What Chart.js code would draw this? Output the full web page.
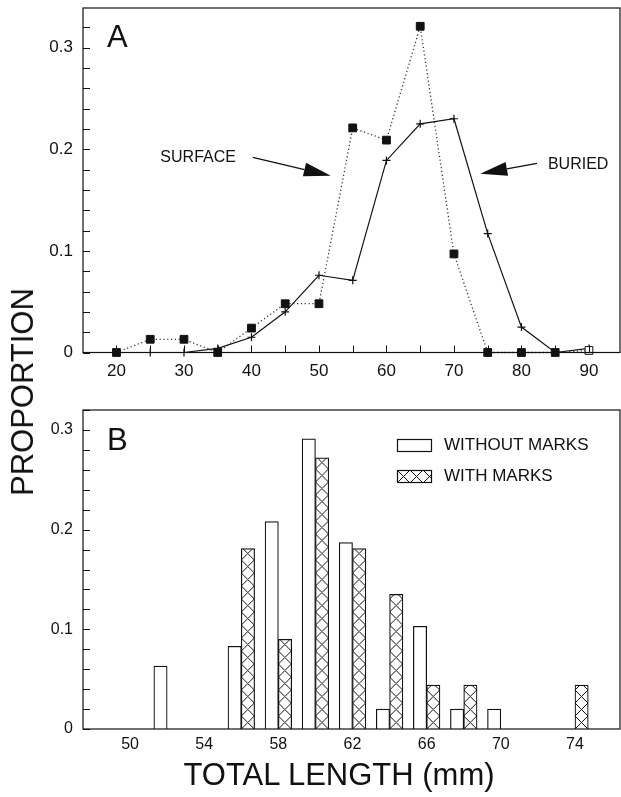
<!DOCTYPE html>
<html>
<head>
<meta charset="utf-8">
<script src="https://cdn.jsdelivr.net/npm/chart.js@4.4.1/dist/chart.umd.min.js"></script>
<style>
  body { margin: 0; background: #fff; }
  #wrap { position: relative; width: 621px; height: 797px; font-family: "Liberation Sans", Arial, sans-serif; color: #111; }
  canvas { position: absolute; left: 0; }
  #chartA { top: 0; }
  #chartB { top: 395px; }
  #ylab { position: absolute; left: 23px; top: 392px; transform: translate(-50%, -50%) rotate(-90deg); font-size: 31px; white-space: nowrap; }
  #xlab { position: absolute; left: 339px; top: 775px; transform: translate(-50%, -50%); font-size: 31px; white-space: nowrap; }
</style>
</head>
<body>
<div id="wrap">
  <canvas id="chartA" width="621" height="395"></canvas>
  <canvas id="chartB" width="621" height="402"></canvas>
  <div id="ylab">PROPORTION</div>
  <div id="xlab">TOTAL LENGTH (mm)</div>
</div>
<script>
// panel A: length frequency, surface vs buried
const lengthA = [20, 25, 30, 35, 40, 45, 50, 55, 60, 65, 70, 75, 80, 85, 90];
const surface = [0, 0.013, 0.013, 0, 0.024, 0.048, 0.048, 0.221, 0.209, 0.321, 0.097, 0, 0, 0, 0.002];
const buried  = [0, 0, 0, 0.004, 0.015, 0.040, 0.076, 0.071, 0.189, 0.225, 0.230, 0.117, 0.025, 0, 0.004];
const xTicksA = [20, 30, 40, 50, 60, 70, 80, 90];

// panel B: with / without marks
const lengthB = [52, 56, 58, 60, 62, 64, 66, 68, 70, 74];
const withoutMarks = [0.063, 0.083, 0.208, 0.291, 0.187, 0.020, 0.103, 0.020, 0.020, null];
const withMarks    = [null, 0.181, 0.090, 0.272, 0.181, 0.135, 0.044, 0.044, null, 0.044];
const xTicksB = [50, 54, 58, 62, 66, 70, 74];

const yTicks = [0, 0.1, 0.2, 0.3];

const FONT = '"Liberation Sans", Arial, sans-serif';
const INK = '#111';

const toXY = (xs, ys) => xs.map((x, i) => ({ x: x, y: ys[i] })).filter(p => p.y !== null);
const pick = (list) => (v) => {
  const hit = list.find(l => Math.abs(l - v) < 1e-6);
  return hit === undefined ? '' : String(hit);
};
const noPad = (s) => { s.paddingTop = 0; s.paddingBottom = 0; s.paddingLeft = 0; s.paddingRight = 0; };

function makeHatch(ctx2d, x0, y0) {
  const c = document.createElement('canvas');
  c.width = 13; c.height = 13;
  const g = c.getContext('2d');
  g.fillStyle = '#fff';
  g.fillRect(0, 0, 13, 13);
  g.strokeStyle = INK;
  g.lineWidth = 1;
  g.beginPath();
  g.moveTo(0, 0); g.lineTo(13, 13);
  g.moveTo(13, 0); g.lineTo(0, 13);
  g.stroke();
  const pat = ctx2d.createPattern(c, 'repeat');
  if (pat.setTransform) pat.setTransform(new DOMMatrix().translate(x0, y0));
  return pat;
}

// frame + inward ticks, panel letter
const framePlugin = {
  id: 'frame',
  afterDatasetsDraw(chart, args, opts) {
    const { ctx, chartArea: a, scales } = chart;
    ctx.save();
    ctx.strokeStyle = INK;
    ctx.lineWidth = 1.2;
    ctx.strokeRect(a.left, a.top, a.right - a.left, a.bottom - a.top);
    ctx.lineWidth = 1;
    ctx.beginPath();
    scales.y.ticks.forEach(t => {
      if (Math.abs(t.value / opts.yStep - Math.round(t.value / opts.yStep)) > 1e-6) return;
      const y = Math.round(scales.y.getPixelForValue(t.value)) + 0.5;
      ctx.moveTo(a.left, y); ctx.lineTo(a.left + 7, y);
    });
    if (opts.xStep) {
      scales.x.ticks.forEach(t => {
        if (t.value < scales.x.min) return;
        if (Math.abs(t.value / opts.xStep - Math.round(t.value / opts.xStep)) > 1e-6) return;
        const x = Math.round(scales.x.getPixelForValue(t.value)) + 0.5;
        ctx.moveTo(x, a.bottom); ctx.lineTo(x, a.bottom - 7);
      });
    }
    ctx.stroke();
    ctx.fillStyle = INK;
    ctx.font = '31px ' + FONT;
    ctx.textBaseline = 'alphabetic';
    ctx.fillText(opts.letter, a.left + 24, a.top + opts.letterDy);
    ctx.restore();
  }
};

// labelled arrows on panel A
const arrowPlugin = {
  id: 'arrows',
  afterDraw(chart, args, opts) {
    if (!opts.items) return;
    const { ctx, scales } = chart;
    const px = (x) => scales.x.getPixelForValue(x);
    const py = (y) => scales.y.getPixelForValue(y);
    ctx.save();
    ctx.fillStyle = INK;
    ctx.strokeStyle = INK;
    ctx.font = '16px ' + FONT;
    ctx.textAlign = 'center';
    ctx.textBaseline = 'middle';
    opts.items.forEach(it => {
      ctx.fillText(it.text, px(it.at[0]), py(it.at[1]));
      const x1 = px(it.from[0]), y1 = py(it.from[1]);
      const x2 = px(it.to[0]), y2 = py(it.to[1]);
      const ang = Math.atan2(y2 - y1, x2 - x1);
      const len = 27, half = 7;
      const bx = x2 - len * Math.cos(ang), by = y2 - len * Math.sin(ang);
      ctx.lineWidth = 1.3;
      ctx.beginPath();
      ctx.moveTo(x1, y1); ctx.lineTo(bx, by);
      ctx.stroke();
      ctx.beginPath();
      ctx.moveTo(x2, y2);
      ctx.lineTo(bx + half * Math.sin(ang), by - half * Math.cos(ang));
      ctx.lineTo(bx - half * Math.sin(ang), by + half * Math.cos(ang));
      ctx.closePath();
      ctx.fill();
    });
    ctx.restore();
  }
};

// legend for panel B
const boxLegend = {
  id: 'boxLegend',
  afterDraw(chart, args, opts) {
    if (!opts.items) return;
    const { ctx } = chart;
    ctx.save();
    ctx.font = '17px ' + FONT;
    ctx.textBaseline = 'middle';
    opts.items.forEach((it, i) => {
      const x = opts.left, y = opts.top + i * opts.gap;
      ctx.fillStyle = it.hatch ? makeHatch(ctx, x, y) : '#fff';
      ctx.fillRect(x, y, 34, 12);
      ctx.strokeStyle = INK;
      ctx.lineWidth = 1.2;
      ctx.strokeRect(x + 0.5, y + 0.5, 34, 12);
      ctx.fillStyle = INK;
      ctx.fillText(it.text, x + 47, y + 6.5);
    });
    ctx.restore();
  }
};

const yScale = (max, size) => ({
  min: 0, max: max,
  border: { display: false },
  grid: { display: false, drawTicks: false },
  ticks: { stepSize: 0.02, includeBounds: false, autoSkip: false, padding: 10,
           color: INK, font: { family: FONT, size: size }, callback: pick(yTicks) },
  afterFit: (s) => { s.width = 83; noPad(s); }
});

new Chart(document.getElementById('chartA'), {
  type: 'line',
  data: {
    datasets: [
      {
        label: 'SURFACE',
        data: toXY(lengthA, surface),
        borderColor: '#333', borderWidth: 1.3, borderDash: [1.2, 2.6],
        pointStyle: 'rect', pointRadius: 5.5, pointBorderColor: INK, pointBorderWidth: 1,
        pointBackgroundColor: (c) => c.dataIndex === lengthA.length - 1 ? '#fff' : INK,
        tension: 0, clip: false
      },
      {
        label: 'BURIED',
        data: toXY(lengthA, buried),
        borderColor: INK, borderWidth: 1.2,
        pointStyle: 'cross', pointRadius: 4, pointBorderColor: INK, pointBorderWidth: 1.2,
        tension: 0, clip: false
      }
    ]
  },
  options: {
    responsive: false, animation: false, devicePixelRatio: 1,
    layout: { autoPadding: false, padding: { top: 8, right: 1, left: 0, bottom: 0 } },
    scales: {
      x: {
        type: 'linear', min: 15.04, max: 94.6,
        border: { display: false },
        grid: { display: false, drawTicks: false },
        ticks: { stepSize: 5, includeBounds: false, autoSkip: false, maxRotation: 0, padding: 9,
                 color: INK, font: { family: FONT, size: 17 }, callback: pick(xTicksA) },
        afterFit: (s) => { s.height = 42.5; noPad(s); }
      },
      y: yScale(0.339, 17)
    },
    plugins: {
      legend: { display: false },
      tooltip: { enabled: false },
      frame: { yStep: 0.02, xStep: 5, letter: 'A', letterDy: 39 },
      arrows: {
        items: [
          { text: 'SURFACE', at: [32.1, 0.192], from: [40.2, 0.192], to: [51.75, 0.174] },
          { text: 'BURIED', at: [88.4, 0.185], from: [82.3, 0.186], to: [73.9, 0.176] }
        ]
      }
    }
  },
  plugins: [framePlugin, arrowPlugin]
});

new Chart(document.getElementById('chartB'), {
  type: 'bar',
  data: {
    datasets: [
      {
        label: 'WITHOUT MARKS',
        data: toXY(lengthB, withoutMarks),
        backgroundColor: '#fff', borderColor: INK, borderWidth: 1.2,
        barThickness: 13.3
      },
      {
        label: 'WITH MARKS',
        data: toXY(lengthB, withMarks),
        backgroundColor: (c) => {
          if (c.type !== 'data' || !c.raw) return '#fff';
          const s = c.chart.scales;
          return makeHatch(c.chart.ctx, s.x.getPixelForValue(c.raw.x), s.y.getPixelForValue(0));
        },
        borderColor: INK, borderWidth: 1.2,
        barThickness: 13.3
      }
    ]
  },
  options: {
    responsive: false, animation: false, devicePixelRatio: 1,
    layout: { autoPadding: false, padding: { top: 15, right: 1, left: 0, bottom: 0 } },
    scales: {
      x: {
        type: 'linear', min: 47.46, max: 76.43, offset: false,
        border: { display: false },
        grid: { display: false, drawTicks: false, offset: false },
        ticks: { stepSize: 2, includeBounds: false, autoSkip: false, maxRotation: 0, padding: 6,
                 color: INK, font: { family: FONT, size: 16 }, callback: pick(xTicksB) },
        afterFit: (s) => { s.height = 68; noPad(s); }
      },
      y: yScale(0.32, 16)
    },
    plugins: {
      legend: { display: false },
      tooltip: { enabled: false },
      frame: { yStep: 0.02, letter: 'B', letterDy: 40 },
      boxLegend: {
        left: 397, top: 44, gap: 31,
        items: [
          { text: 'WITHOUT MARKS', hatch: false },
          { text: 'WITH MARKS', hatch: true }
        ]
      }
    }
  },
  plugins: [framePlugin, boxLegend]
});
</script>
</body>
</html>
